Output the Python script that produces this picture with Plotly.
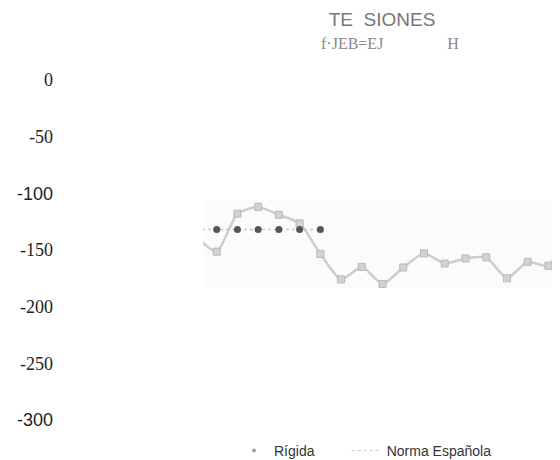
import plotly.graph_objects as go

# Data
x_norma = [0, 1, 2, 3, 4, 5, 6, 7, 8, 9, 10, 11, 12, 13, 14, 15, 16, 17, 18]
y_norma = [-138, -151.5, -118, -112, -119, -126.5, -153.5, -176, -165, -180, -165.5,
           -153, -162, -157.5, -156.5, -175, -160.5, -164, -125]
x_rigida = [0, 1, 2, 3, 4, 5, 6]
y_rigida = [-132, -132, -132, -132, -132, -132, -132]

tick_vals = [0, -50, -100, -150, -200, -250, -300]
tick_sans = [False, False, True, False, False, False, True]
tick_text = [f'<span style="font-family:Liberation Sans">{v}</span>' if s else str(v)
             for v, s in zip(tick_vals, tick_sans)]

fig = go.Figure()

fig.add_trace(go.Scatter(
    x=x_norma, y=y_norma, mode="lines+markers", line=dict(color="#cdcdcd", width=2.5, shape="spline", smoothing=0.6),
    marker=dict(symbol="square", size=7, color="#d2d2d2", line=dict(color="#b8b8b8", width=1)),
    showlegend=False, name="Norma Española"))
fig.add_trace(go.Scatter(
    x=x_rigida, y=y_rigida, mode="lines+markers", line=dict(color="#c8c8c8", width=1.5, dash="dot"),
    marker=dict(symbol="circle", size=7, color="#555555"),
    showlegend=False, name="Rígida"))

# legend entries
fig.add_trace(go.Scatter(x=[None], y=[None], mode="markers", name="Rígida" + "\u00a0" * 7,
                         marker=dict(size=4, color="#a0a0a0")))
fig.add_trace(go.Scatter(x=[None], y=[None], mode="lines", name="Norma Española",
                         line=dict(color="#c8c8c8", width=1, dash="dot")))

fig.add_shape(type="rect", xref="x domain", yref="y", x0=0, x1=1, y0=-183.6, y1=-105.9,
              fillcolor="#fbfbfb", line=dict(width=0), layer="below")

L, R, T, B = 45, 8, 62, 38
PW, PH = 560 - L - R, 460 - T - B

fig.update_layout(
    width=560, height=460,
    margin=dict(l=L, r=R, t=T, b=B, autoexpand=False),
    paper_bgcolor="white", plot_bgcolor="white",
    font=dict(family="Liberation Sans", color="#222222"),
    title=dict(text="TE\u00a0\u00a0SIONES", x=374/560, xanchor="center", y=1-11/460, yanchor="middle",
               font=dict(family="Liberation Sans", size=19, color="#777777")),
    xaxis=dict(domain=[(195 - L) / PW, 1], range=[0.339, 17.56], visible=False),
    yaxis=dict(anchor="free", position=0, range=[-308.9, 8.8], tickvals=tick_vals, ticktext=tick_text,
               showgrid=False, zeroline=False, showline=False, ticks="",
               tickfont=dict(family="Liberation Serif", size=18, color="#222222")),
    legend=dict(orientation="h", x=(226 - L) / PW, xanchor="left", y=-(443 - (T + PH)) / PH, yanchor="middle",
                font=dict(family="Liberation Sans", size=14, color="#333333"),
                itemwidth=30, bgcolor="rgba(0,0,0,0)"),
    annotations=[dict(text="f·JEB=EJ" + "\u00a0" * 16 + "H",
                      xref="paper", yref="paper", x=(382 - L) / PW, y=1 + (T - 35) / PH,
                      xanchor="center", yanchor="middle", showarrow=False,
                      font=dict(family="Liberation Serif", size=16, color="#888888"))],
)

fig.write_html("out.html")
